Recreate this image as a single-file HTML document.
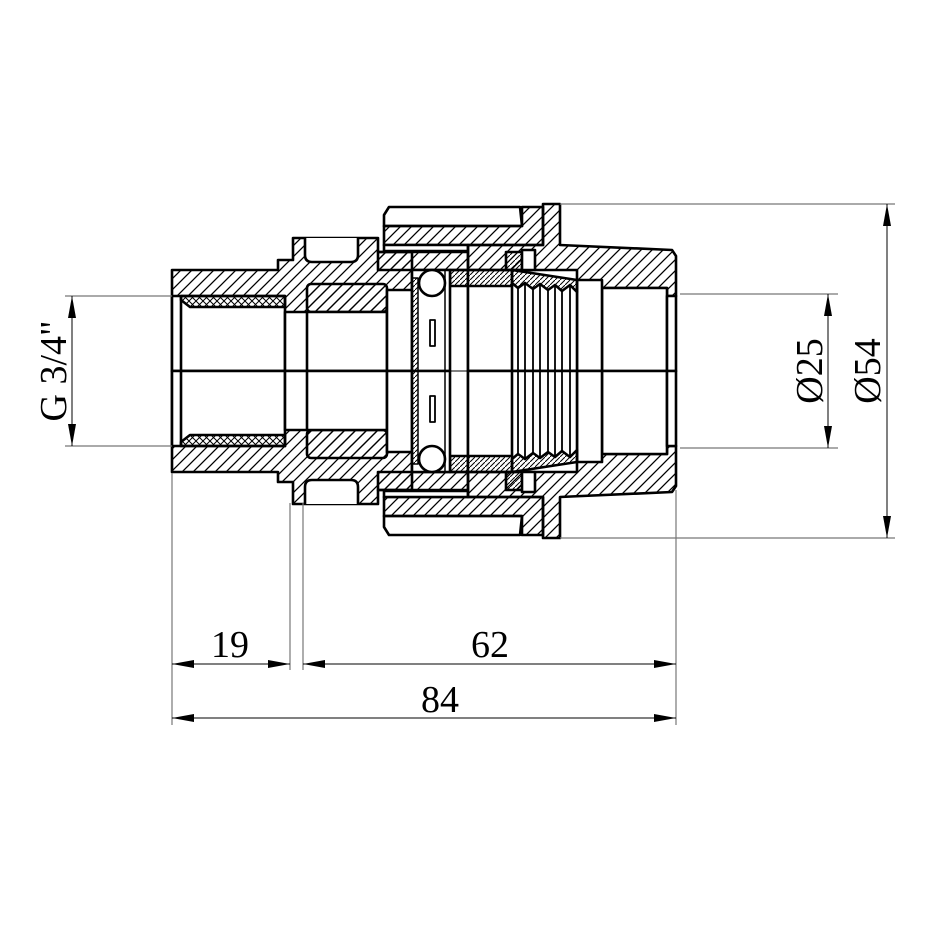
<!DOCTYPE html>
<html><head><meta charset="utf-8"><style>
html,body{margin:0;padding:0;background:#fff;}
svg{display:block}
text{font-family:"Liberation Serif",serif;fill:#000}
</style></head><body>
<svg width="930" height="930" viewBox="0 0 930 930" xmlns="http://www.w3.org/2000/svg">
<defs>
<pattern id="h" width="11" height="11" patternUnits="userSpaceOnUse">
<path d="M-1,12 L12,-1 M-1,1 L1,-1 M10,12 L12,10" stroke="#000" stroke-width="1.3"/></pattern>
<pattern id="h2" width="5" height="5" patternUnits="userSpaceOnUse">
<path d="M-1,6 L6,-1" stroke="#000" stroke-width="1"/></pattern>
<pattern id="hb" width="11" height="11" patternUnits="userSpaceOnUse">
<path d="M-1,-1 L12,12 M-1,10 L1,12 M10,-1 L12,1" stroke="#000" stroke-width="1.3"/></pattern>
<pattern id="h2b" width="5" height="5" patternUnits="userSpaceOnUse">
<path d="M-1,-1 L6,6" stroke="#000" stroke-width="1"/></pattern>
<pattern id="x" width="7" height="7" patternUnits="userSpaceOnUse">
<path d="M-1,8 L8,-1 M-1,-1 L8,8" stroke="#000" stroke-width="1"/></pattern>
</defs>

<g stroke="#000" stroke-width="2.6" stroke-linejoin="round">
  <polygon fill="url(#h)" points="172,270 278,270 278,260 293,260 293,238 378,238 378,252 412,252 412,371 172,371"/>
  <rect x="172" y="296" width="113" height="75" fill="#fff"/>
  <polygon points="181,296 285,296 285,307 190,307 181,300" fill="url(#x)"/>
  <line x1="181" y1="296" x2="181" y2="371"/>
  <rect x="285" y="312" width="24" height="59" fill="#fff"/>
  <rect x="307" y="284" width="80" height="28" rx="4" fill="url(#h)"/>
  <rect x="307" y="312" width="80" height="59" fill="#fff"/>
  <rect x="387" y="290" width="25" height="81" fill="#fff"/>
  <path d="M305,238 L305,255 Q305,262 312,262 L351,262 Q358,262 358,255 L358,238" fill="#fff"/>
  <polygon points="384,215 389,207 520,207 522,226 384,226" fill="#fff"/>
  <polygon points="384,226 522,226 522,207 543,207 543,245 384,245" fill="url(#h)"/>
  <rect x="384" y="245" width="84" height="6" fill="#fff"/>
  <rect x="378" y="252" width="90" height="18" fill="url(#h)"/>
  <polygon fill="url(#h)" points="468,245 543,245 543,204 560,204 560,245 672,250 676,256 676,296 667,296 667,288 602,288 602,371 468,371 468,252"/>
  <rect x="602" y="288" width="65" height="83" fill="#fff"/>
  <rect x="667" y="296" width="9" height="75" fill="#fff"/>
  <rect x="577" y="280" width="25" height="91" fill="#fff"/>
  <rect x="468" y="270" width="109" height="101" fill="#fff"/>
  <rect x="506" y="252" width="16" height="18" fill="url(#h2)"/>
  <rect x="522" y="250" width="13" height="20" fill="#fff"/>
  <polygon fill="url(#h2)" points="512,270 577,280 577,292 570,285 562,291 555,285 548,290 540,284 533,289 525,283 518,288 512,283"/>
  <g stroke-width="1.8">
  <line x1="518" y1="288" x2="518" y2="371"/><line x1="525" y1="283" x2="525" y2="371"/>
  <line x1="533" y1="289" x2="533" y2="371"/><line x1="540" y1="284" x2="540" y2="371"/>
  <line x1="548" y1="290" x2="548" y2="371"/><line x1="555" y1="285" x2="555" y2="371"/>
  <line x1="562" y1="291" x2="562" y2="371"/><line x1="570" y1="285" x2="570" y2="371"/>
  </g>
  <rect x="450" y="270" width="62" height="16" fill="url(#h2)"/>
  <line x1="512" y1="286" x2="512" y2="371"/>
  <rect x="412" y="270" width="38" height="101" fill="#fff"/>
  <rect x="412" y="278" width="6" height="93" fill="url(#h2)" stroke-width="1.5"/>
  <line x1="445" y1="270" x2="445" y2="371" stroke-width="1.5"/>
  <circle cx="432" cy="283" r="13" fill="#fff"/>
  <rect x="430" y="320" width="5" height="26" fill="#fff" stroke-width="1.8"/>
</g>

<g transform="translate(0,742) scale(1,-1)" stroke="#000" stroke-width="2.6" stroke-linejoin="round">
  <polygon fill="url(#hb)" points="172,270 278,270 278,260 293,260 293,238 378,238 378,252 412,252 412,371 172,371"/>
  <rect x="172" y="296" width="113" height="75" fill="#fff"/>
  <polygon points="181,296 285,296 285,307 190,307 181,300" fill="url(#x)"/>
  <line x1="181" y1="296" x2="181" y2="371"/>
  <rect x="285" y="312" width="24" height="59" fill="#fff"/>
  <rect x="307" y="284" width="80" height="28" rx="4" fill="url(#hb)"/>
  <rect x="307" y="312" width="80" height="59" fill="#fff"/>
  <rect x="387" y="290" width="25" height="81" fill="#fff"/>
  <path d="M305,238 L305,255 Q305,262 312,262 L351,262 Q358,262 358,255 L358,238" fill="#fff"/>
  <polygon points="384,215 389,207 520,207 522,226 384,226" fill="#fff"/>
  <polygon points="384,226 522,226 522,207 543,207 543,245 384,245" fill="url(#hb)"/>
  <rect x="384" y="245" width="84" height="6" fill="#fff"/>
  <rect x="378" y="252" width="90" height="18" fill="url(#hb)"/>
  <polygon fill="url(#hb)" points="468,245 543,245 543,204 560,204 560,245 672,250 676,256 676,296 667,296 667,288 602,288 602,371 468,371 468,252"/>
  <rect x="602" y="288" width="65" height="83" fill="#fff"/>
  <rect x="667" y="296" width="9" height="75" fill="#fff"/>
  <rect x="577" y="280" width="25" height="91" fill="#fff"/>
  <rect x="468" y="270" width="109" height="101" fill="#fff"/>
  <rect x="506" y="252" width="16" height="18" fill="url(#h2b)"/>
  <rect x="522" y="250" width="13" height="20" fill="#fff"/>
  <polygon fill="url(#h2b)" points="512,270 577,280 577,292 570,285 562,291 555,285 548,290 540,284 533,289 525,283 518,288 512,283"/>
  <g stroke-width="1.8">
  <line x1="518" y1="288" x2="518" y2="371"/><line x1="525" y1="283" x2="525" y2="371"/>
  <line x1="533" y1="289" x2="533" y2="371"/><line x1="540" y1="284" x2="540" y2="371"/>
  <line x1="548" y1="290" x2="548" y2="371"/><line x1="555" y1="285" x2="555" y2="371"/>
  <line x1="562" y1="291" x2="562" y2="371"/><line x1="570" y1="285" x2="570" y2="371"/>
  </g>
  <rect x="450" y="270" width="62" height="16" fill="url(#h2b)"/>
  <line x1="512" y1="286" x2="512" y2="371"/>
  <rect x="412" y="270" width="38" height="101" fill="#fff"/>
  <rect x="412" y="278" width="6" height="93" fill="url(#h2b)" stroke-width="1.5"/>
  <line x1="445" y1="270" x2="445" y2="371" stroke-width="1.5"/>
  <circle cx="432" cy="283" r="13" fill="#fff"/>
  <rect x="430" y="320" width="5" height="26" fill="#fff" stroke-width="1.8"/>
</g>

<g stroke="#000" stroke-width="1">
<line x1="172" y1="371" x2="298" y2="371"/><line x1="348" y1="371" x2="398" y2="371"/>
<line x1="448" y1="371" x2="498" y2="371"/><line x1="548" y1="371" x2="676" y2="371"/>
</g>
<g stroke="#777" stroke-width="1.2">
<line x1="65" y1="296" x2="172" y2="296"/><line x1="65" y1="446" x2="172" y2="446"/>
<line x1="680" y1="294" x2="838" y2="294"/><line x1="680" y1="448" x2="838" y2="448"/>
<line x1="560" y1="204" x2="895" y2="204"/><line x1="560" y1="538" x2="895" y2="538"/>
<line x1="172" y1="473" x2="172" y2="725"/><line x1="290" y1="503" x2="290" y2="670"/>
<line x1="303" y1="503" x2="303" y2="670"/><line x1="676" y1="490" x2="676" y2="725"/>
</g>
<g stroke="#000" stroke-width="1">
<line x1="72" y1="296" x2="72" y2="446"/><line x1="828" y1="294" x2="828" y2="448"/>
<line x1="887" y1="204" x2="887" y2="538"/>
<line x1="172" y1="664" x2="290" y2="664"/><line x1="303" y1="664" x2="676" y2="664"/>
<line x1="172" y1="718" x2="676" y2="718"/>
</g>
<g fill="#000">
<polygon points="72,296 68,318 76,318"/><polygon points="72,446 68,424 76,424"/>
<polygon points="828,294 824,316 832,316"/><polygon points="828,448 824,426 832,426"/>
<polygon points="887,204 883,226 891,226"/><polygon points="887,538 883,516 891,516"/>
<polygon points="172,664 194,660 194,668"/><polygon points="290,664 268,660 268,668"/>
<polygon points="303,664 325,660 325,668"/><polygon points="676,664 654,660 654,668"/>
<polygon points="172,718 194,714 194,722"/><polygon points="676,718 654,714 654,722"/>
</g>
<g font-size="38">
<text x="230" y="657" text-anchor="middle">19</text>
<text x="490" y="657" text-anchor="middle">62</text>
<text x="440" y="712" text-anchor="middle">84</text>
<text transform="translate(66,371) rotate(-90)" text-anchor="middle">G 3/4"</text>
<text transform="translate(822,371) rotate(-90)" text-anchor="middle">Ø25</text>
<text transform="translate(880,371) rotate(-90)" text-anchor="middle">Ø54</text>
</g>
</svg>
</body></html>
